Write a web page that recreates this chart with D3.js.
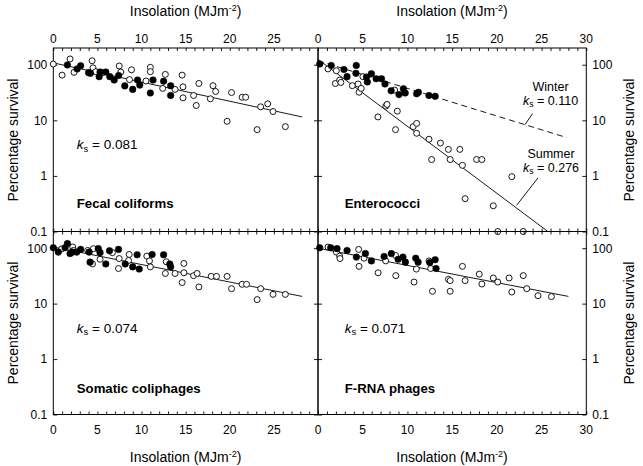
<!DOCTYPE html>
<html><head><meta charset="utf-8">
<script src="https://cdn.jsdelivr.net/npm/d3@7"></script>
<style>
body{margin:0;background:#fff}
svg{display:block;font-family:"Liberation Sans",Arial,Helvetica,sans-serif}
</style>
</head><body>
<svg id="c" width="643" height="466"></svg>
<script>
// ---------------- data ----------------
const xTickValues = [0,1,2,3,4,5,6,7,8,9,10,11,12,13,14,15,16,17,18,19,20,21,22,23,24,25,26,27,28,29,30];
const xLabelsLeft = [0,5,10,15,20,25];
const xLabelsRight = [0,5,10,15,20,25,30];
const yTickValues = [0.1,1,10,100];
const yTickLabels = ["0.1","1","10","100"];
const xTitle = "Insolation (MJm";
const yTitle = "Percentage survival";

// Fecal coliforms
const fecalSummer = [[0,103],[1.0,65],[1.9,127],[2.35,73],[4.4,118],[4.5,88],[4.8,75],[5.6,72],[7.47,95],[7.65,74],[8.64,54],[8.86,81],[10.5,51],[11.0,90],[11.0,75],[12.7,67],[12.4,37.5],[13.8,36],[14.6,65],[14.7,40],[14.7,25.4],[15.9,28],[16.2,18.5],[16.5,46],[17.8,24.4],[18.1,42],[18.4,33],[19.7,9.6],[20.2,31.6],[21.4,26],[21.8,26],[23.1,6.8],[23.5,17.5],[24.3,19.8],[24.9,14.4],[26.3,7.7]];
const fecalWinter = [[1.6,99],[2.7,84],[3.1,96],[4.0,72],[4.2,70],[5.2,61],[5.3,74],[5.95,74],[6.4,61],[6.9,53],[7.4,64],[8.1,41.6],[9.0,36],[9.55,53],[9.8,43],[11.0,31],[11.3,53],[12.5,50.6],[13.3,42],[13.3,28]];
const fecalLine = [[0,108],[28.2,11.5]];

// Enterococci
const enteroSummer = [[1.12,84],[1.94,46],[2.05,78],[2.42,53],[2.56,48],[3.84,42],[4.48,45],[4.59,32],[4.83,37.5],[5.02,61],[8.57,35],[6.7,11.5],[7.58,18],[7.72,19.3],[8.87,14.6],[8.67,6.8],[10.64,7.7],[11.03,8.8],[11.03,5.85],[12.41,4.57],[13.69,3.9],[14.58,3.0],[15.86,3.0],[12.71,1.97],[14.78,1.97],[16.15,1.55],[17.73,1.97],[18.32,1.97],[21.67,0.97],[16.45,0.39],[19.6,0.29],[20.1,0.1],[22.95,0.1]];
const enteroWinter = [[0.2,103],[1.48,97],[2.9,82],[3.25,61],[4.28,97],[4.24,70],[5.42,60],[5.52,49],[5.97,69],[6.5,56],[7.1,56],[7.49,45],[8.18,34],[9.06,29],[9.55,37],[9.75,31],[11.03,30],[11.23,32],[12.41,28],[13.1,27]];
const enteroSummerLine = [[0,125],[25.7,0.1]];
const enteroWinterLine = [[0,118],[27.8,4.9]];
const enteroWinterLeader = [[23.15,8.4],[24.0,13.3]];
const enteroSummerLeader = [[22.2,0.295],[24.6,0.92]];

// Somatic coliphages
const somaticSummer = [[0.95,97],[2.2,105],[2.28,91],[3.9,91],[4.55,98],[4.44,52],[5.3,63],[6.7,83],[7.47,65],[7.39,43],[8.6,77],[8.53,60],[10.6,72],[10.9,59],[11.0,46],[12.8,57],[12.7,35],[13.8,35],[14.8,53],[14.8,36],[14.6,24],[15.9,32],[16.3,35],[16.5,20],[17.9,31],[18.5,31],[19.7,31],[20.2,18.6],[21.4,22.3],[21.9,22.3],[23.1,11.8],[23.5,18.6],[24.9,14.7],[26.3,14.7]];
const somaticWinter = [[0,102],[0.57,85],[1.33,102],[1.6,121],[1.9,80],[2.16,85],[2.66,85],[3.1,95],[4.06,85],[4.17,56],[5.1,98],[5.3,83],[5.95,52],[6.37,90],[7.39,95],[8.15,52],[9.0,46],[9.5,76],[9.74,42],[11.2,77],[12.5,76],[13.2,52],[13.3,46]];
const somaticLine = [[0,105],[28.2,13.5]];

// F-RNA phages
const frnaSummer = [[1.12,105],[2.05,85],[2.42,72],[2.46,65],[4.55,95],[4.59,47],[5.15,66],[6.72,36],[7.57,59],[8.67,74],[8.7,32],[10.74,24.5],[11.0,42],[12.41,59],[12.6,43],[12.8,16.7],[14.58,27.4],[14.78,26],[14.78,16.7],[16.15,47],[16.45,26],[18.03,34],[18.32,22.6],[19.6,29],[20.1,24.5],[21.37,29],[21.67,16.2],[22.95,32],[23.34,18.6],[24.6,13.9],[26.1,13.4]];
const frnaWinter = [[0.19,102],[1.42,102],[2.13,98],[3.25,91],[4.29,69],[5.3,80],[5.97,59],[7.39,71],[8.2,80],[8.96,63],[9.5,69],[9.77,56],[10.93,66],[11.19,56],[12.5,55],[13.1,62],[13.2,43]];
const frnaLine = [[0,100],[28.0,13.5]];

// ---------------- layout ----------------
const svg = d3.select("#c");
const colX = [[53.3,318],[318,586.3]];
const rowY = [[231.5,48],[414.5,231.5]];
const FONT = 12;

const panels = [
  {col:0,row:0,name:"Fecal coliforms",summer:fecalSummer,winter:fecalWinter,
   lines:[{pts:fecalLine,dash:null}],ks:"0.081"},
  {col:1,row:0,name:"Enterococci",summer:enteroSummer,winter:enteroWinter,
   lines:[{pts:enteroWinterLine,dash:"6,4"},{pts:enteroSummerLine,dash:null},
          {pts:enteroWinterLeader,dash:null},{pts:enteroSummerLeader,dash:null}],ks:null},
  {col:0,row:1,name:"Somatic coliphages",summer:somaticSummer,winter:somaticWinter,
   lines:[{pts:somaticLine,dash:null}],ks:"0.074"},
  {col:1,row:1,name:"F-RNA phages",summer:frnaSummer,winter:frnaWinter,
   lines:[{pts:frnaLine,dash:null}],ks:"0.071"}
];

function ksText(g, x, y, val, anchor, fs){
  fs = fs || 13.5;
  const t = g.append("text").attr("x",x).attr("y",y).attr("font-size",fs)
    .attr("text-anchor",anchor||"start");
  t.append("tspan").attr("font-style","italic").text("k");
  t.append("tspan").attr("font-size",fs*0.7).attr("dy",2.5).text("s");
  t.append("tspan").attr("dy",-2.5).text(" = " + val);
}

panels.forEach(p=>{
  const x = d3.scaleLinear().domain([0,30]).range(colX[p.col]);
  const y = d3.scaleLog().domain([0.1,200]).range(rowY[p.row]);
  const g = svg.append("g");
  const [x0,x1] = x.range(), [yb,yt] = y.range();

  const clean = s=>s.call(a=>a.select(".domain").remove()).call(a=>a.selectAll("text").remove())
                  .call(a=>a.selectAll("line").attr("stroke","#000").attr("stroke-width",0.9));
  g.append("g").attr("transform",`translate(0,${yt})`)
    .call(d3.axisBottom(x).tickValues(xTickValues).tickSize(3)).call(clean);
  g.append("g").attr("transform",`translate(0,${yb})`)
    .call(d3.axisTop(x).tickValues(xTickValues).tickSize(3)).call(clean);
  g.append("g").attr("transform",`translate(${x0},0)`)
    .call(d3.axisRight(y).tickValues(yTickValues).tickSize(4)).call(clean);
  g.append("g").attr("transform",`translate(${x1},0)`)
    .call(d3.axisLeft(y).tickValues(yTickValues).tickSize(4)).call(clean);

  g.append("rect").attr("x",x0).attr("y",yt).attr("width",x1-x0).attr("height",yb-yt)
    .attr("fill","none").attr("stroke","#000").attr("stroke-width",1);

  const xl = p.col===0 ? xLabelsLeft : xLabelsRight;
  g.selectAll(".xl").data(xl).enter().append("text")
    .attr("x",d=>x(d)).attr("y",p.row===0 ? 43 : 434).attr("text-anchor","middle")
    .attr("font-size",FONT).text(d=>d);
  g.selectAll(".yl").data(yTickValues).enter().append("text")
    .attr("x", p.col===0 ? x0-6 : x1+6)
    .attr("y", d=>y(d)).attr("dy","0.36em")
    .attr("text-anchor", p.col===0 ? "end" : "start")
    .attr("font-size",FONT).text((d,i)=>yTickLabels[i]);

  const line = d3.line().x(d=>x(d[0])).y(d=>y(d[1]));
  p.lines.forEach(L=>{
    g.append("path").attr("d",line(L.pts)).attr("fill","none").attr("stroke","#000")
      .attr("stroke-width",0.9).attr("stroke-dasharray",L.dash);
  });

  g.selectAll(".s").data(p.summer).enter().append("circle")
    .attr("cx",d=>x(d[0])).attr("cy",d=>y(d[1])).attr("r",3)
    .attr("fill","#fff").attr("stroke","#000").attr("stroke-width",0.9);
  g.selectAll(".w").data(p.winter).enter().append("circle")
    .attr("cx",d=>x(d[0])).attr("cy",d=>y(d[1])).attr("r",3.3)
    .attr("fill","#000").attr("stroke","#000").attr("stroke-width",0.5);

  g.append("text").attr("x", x0 + (p.col===0 ? 23.5 : 26.7))
    .attr("y", p.row===0 ? 208 : 392.5)
    .attr("font-size",13.2).attr("font-weight","bold").text(p.name);
  if(p.ks) ksText(g, x0 + (p.col===0 ? 23.5 : 26.7), p.row===0 ? 149 : 332.5, p.ks);
});

// Enterococci annotations
svg.append("text").attr("x",550.5).attr("y",90.5).attr("text-anchor","middle").attr("font-size",12.5).text("Winter");
ksText(svg, 550.5, 104.5, "0.110", "middle", 12.5);
svg.append("text").attr("x",551).attr("y",157.5).attr("text-anchor","middle").attr("font-size",12.5).text("Summer");
ksText(svg, 551, 171.5, "0.276", "middle", 12.5);

// axis titles
function xT(cx, yy){
  const t = svg.append("text").attr("x",cx).attr("y",yy).attr("text-anchor","middle").attr("font-size",14);
  t.append("tspan").text(xTitle);
  t.append("tspan").attr("font-size",9).attr("dy",-5).text("-2");
  t.append("tspan").attr("dy",5).text(")");
}
xT(185.6,16); xT(452,16); xT(185.6,462); xT(452,462);

function yT(cx, cy){
  svg.append("text").attr("transform",`translate(${cx},${cy}) rotate(-90)`)
    .attr("text-anchor","middle").attr("font-size",14).text(yTitle);
}
yT(18,140); yT(18,323); yT(634,140); yT(634,323);
</script>
</body></html>
